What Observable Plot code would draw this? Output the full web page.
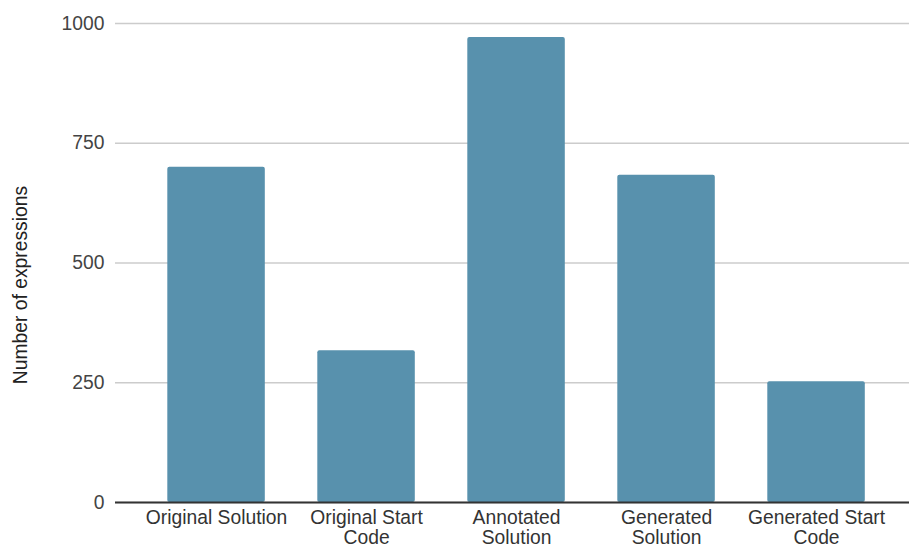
<!DOCTYPE html>
<html>
<head>
<meta charset="utf-8">
<script src="https://cdn.jsdelivr.net/npm/d3@7"></script>
<script src="https://cdn.jsdelivr.net/npm/@observablehq/plot@0.6"></script>
<style>
  html, body { margin: 0; padding: 0; background: #fff; }
</style>
</head>
<body>
<div id="chart"></div>
<script>
const categories = ["Original Solution", "Original Start Code", "Annotated Solution", "Generated Solution", "Generated Start Code"];
const tickLabels = ["Original Solution", "Original Start\nCode", "Annotated\nSolution", "Generated\nSolution", "Generated Start\nCode"];
const values = [700, 317, 971, 683, 252];
const yTicks = [0, 250, 500, 750, 1000];
const yTitle = "Number of expressions";

const data = categories.map((c, i) => ({cat: c, value: values[i]}));
const font = "'Liberation Sans', Arial, sans-serif";

const chart = Plot.plot({
  width: 909,
  height: 546,
  marginLeft: 115,
  marginRight: 0,
  marginTop: 23,
  marginBottom: 44,
  style: {fontFamily: font, fontSize: "19.3px", background: "#fff", color: "#444"},
  x: {domain: categories, paddingInner: 0.35, paddingOuter: 0.3217, align: 0.542, round: false, label: null},
  y: {domain: [0, 1000], label: null},
  marks: [
    Plot.gridY(yTicks, {stroke: "#cccccc", strokeOpacity: 1, strokeWidth: 1.3}),
    Plot.barY(data, {x: "cat", y: "value", fill: "#5891ad", rx: 2}),
    Plot.ruleY([0], {stroke: "#333", strokeWidth: 2}),
    Plot.axisY(yTicks, {tickSize: 0, tickPadding: 11, fontSize: 19.3, fill: "#444", tickFormat: d3.format("d"), label: null}),
    Plot.axisX({tickSize: 0, tickPadding: 8, fontSize: 19.3, fill: "#333", lineHeight: 1.0,
      tickFormat: d => tickLabels[categories.indexOf(d)], label: null}),
    Plot.text([yTitle], {frameAnchor: "left", textAnchor: "middle", rotate: -90, dx: -95, dy: 22, fontSize: 19.3, fill: "#222"})
  ]
});
document.getElementById("chart").appendChild(chart);
</script>
</body>
</html>
